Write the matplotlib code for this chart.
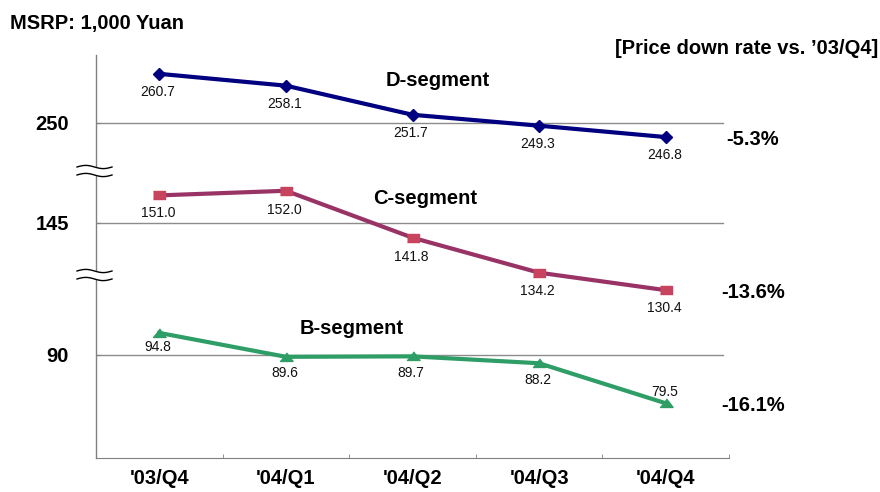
import matplotlib
matplotlib.use('Agg')
import matplotlib.pyplot as plt
from matplotlib.lines import Line2D
from matplotlib.patches import Polygon
import numpy as np

quarters = ["'03/Q4", "'04/Q1", "'04/Q2", "'04/Q3", "'04/Q4"]
d_seg = [260.7, 258.1, 251.7, 249.3, 246.8]
c_seg = [151.0, 152.0, 141.8, 134.2, 130.4]
b_seg = [94.8, 89.6, 89.7, 88.2, 79.5]
seg_names = ['D-segment', 'C-segment', 'B-segment']
grid_vals = [250, 145, 90]

plt.rcParams['font.family'] = ['Liberation Sans', 'DejaVu Sans']

W, H = 880, 492
fig = plt.figure(figsize=(W / 100, H / 100), dpi=100)


def fx(px):
    return px / W


def fy(py):
    return 1 - py / H


left, right = 96, 729
# pixel bands (top, bottom) of the three broken-axis pieces
bands = [(55, 171), (171, 276), (276, 458)]
ylims = [(239.34, 264.84), (133.48, 156.3), (67.6, 107.17)]

series = [d_seg, c_seg, b_seg]
line_cols = ['#000080', '#993366', '#2E9E66']
mk_cols = ['#000080', '#C8445E', '#2E9E66']
rect = [(-1, -0.6), (1, -0.6), (1, 0.6), (-1, 0.6)]
tri = [(-1, -0.6), (1, -0.6), (0, 0.7)]
markers = ['D', rect, tri]
msizes = [6, 8.5, 9.5]
# label offsets (points) below/above the points
lbl_dy = [[-13, -13, -13, -13, -13],
          [-13, -14, -14, -13, -13],
          [-10, -12, -12, -12, 8]]
# segment title positions (x in category units, y in data units)
seg_pos = [(2.2, 259.3), (2.1, 150.4), (1.52, 95.65)]
pct_y = [246.2, 129.8, 79.1]

grey = '#808080'
axes = []
for k, (top, bot) in enumerate(bands):
    ax = fig.add_axes([fx(left), fy(bot), fx(right) - fx(left), (bot - top) / H])
    ax.set_xlim(-0.5, 4.5)
    ax.set_ylim(*ylims[k])
    ax.patch.set_alpha(0)
    for s in ['top', 'right', 'bottom']:
        ax.spines[s].set_visible(False)
    ax.spines['left'].set_color(grey)
    ax.spines['left'].set_linewidth(1)
    ax.set_yticks([grid_vals[k]])
    ax.set_yticklabels([str(grid_vals[k])], fontsize=14.5, fontweight='bold')
    ax.tick_params(axis='y', direction='in', length=3, pad=19.5, color=grey)
    ax.axhline(grid_vals[k], xmin=0, xmax=0.99, color='#8c8c8c', lw=1, zorder=1)
    ax.set_xticks([])

    vals = series[k]
    x = np.arange(len(vals))
    ax.plot(x, vals, color=line_cols[k], lw=3, marker=markers[k], ms=msizes[k],
            mfc=mk_cols[k], mec=mk_cols[k], clip_on=False, zorder=3)
    for i, v in enumerate(vals):
        ax.annotate(f'{v:.1f}', (i, v), xytext=(-1, lbl_dy[k][i]), textcoords='offset points',
                    ha='center', va='center', fontsize=10, color='#111111',
                    annotation_clip=False, zorder=4)
    ax.text(seg_pos[k][0], seg_pos[k][1], seg_names[k], ha='center', va='center',
            fontsize=14.5, fontweight='bold')
    rate = (vals[-1] - vals[0]) / vals[0] * 100
    ax.text(4.69, pct_y[k], f'{rate:.1f}%', ha='center', va='center',
            fontsize=14.5, fontweight='bold')
    axes.append(ax)

axb = axes[-1]
axb.spines['bottom'].set_visible(True)
axb.spines['bottom'].set_color(grey)
axb.set_xticks(range(len(quarters)))
axb.set_xticklabels(quarters, fontsize=14.5, fontweight='bold')
axb.tick_params(axis='x', which='major', length=0, pad=8)
axb.set_xticks(np.arange(-0.5, 5, 1), minor=True)
axb.tick_params(axis='x', which='minor', direction='in', length=3, color=grey)


def break_mark(yc):
    xs = np.linspace(77, 112, 40)
    wv = 1.6 * np.sin(2 * np.pi * (xs - 77) / 35)
    y1 = yc - 4 - wv
    y2 = yc + 4 - wv
    poly = np.column_stack([np.r_[xs, xs[::-1]], np.r_[y1, y2[::-1]]])
    fig.add_artist(Polygon(np.column_stack([fx(poly[:, 0]), fy(poly[:, 1])]),
                           closed=True, fc='white', ec='none', transform=fig.transFigure, zorder=5))
    for yy in (y1, y2):
        fig.add_artist(Line2D(fx(xs), fy(yy), color='black', lw=1,
                              transform=fig.transFigure, zorder=6))


break_mark(171)
break_mark(275)

fig.text(fx(10), fy(23), 'MSRP: 1,000 Yuan', ha='left', va='center',
         fontsize=14.5, fontweight='bold')
fig.text(fx(878), fy(48), '[Price down rate vs. \u201903/Q4]', ha='right', va='center',
         fontsize=14.5, fontweight='bold')

fig.savefig('out.png', dpi=100)
